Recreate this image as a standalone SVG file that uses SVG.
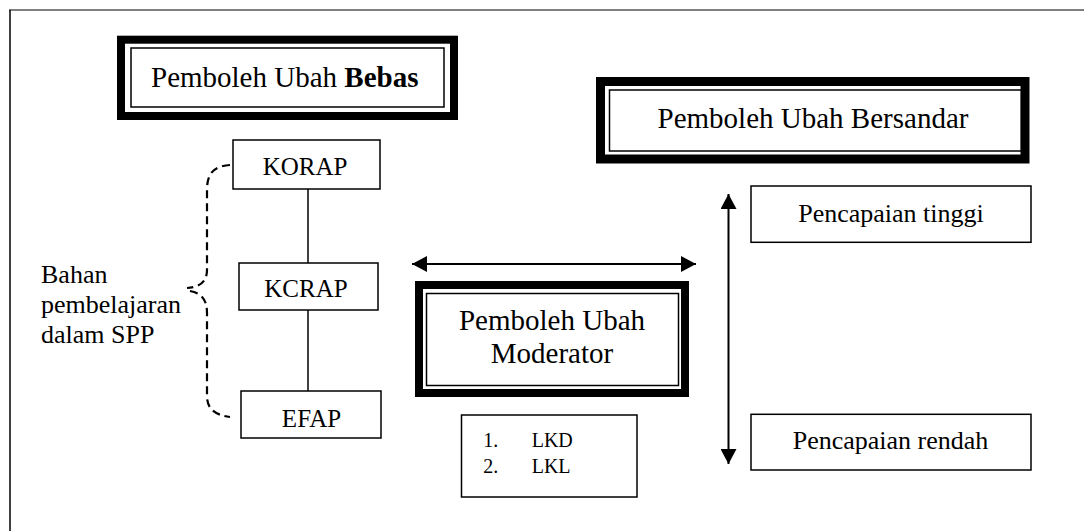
<svg xmlns="http://www.w3.org/2000/svg" width="1084" height="531" viewBox="0 0 1084 531" font-family="'Liberation Serif', 'DejaVu Serif', serif">
<style>
text{font-family:'Liberation Serif','DejaVu Serif',serif;fill:#000}
.h{font-size:29px}
.b{font-size:26px}
.k{font-size:25px}
.s{font-size:20px}
.thick{fill:#fff;stroke:#000;stroke-width:8}
.thin{fill:none;stroke:#000;stroke-width:1.5}
.box{fill:#fff;stroke:#000;stroke-width:1.5}
.line{stroke:#000;stroke-width:1.5;fill:none}
.dash{stroke:#000;stroke-width:2.2;fill:none;stroke-dasharray:8,5}
.arr{stroke:#000;stroke-width:2}
</style>
<defs>
<marker id="ah" viewBox="0 0 15 16" refX="15" refY="8" markerWidth="15" markerHeight="16" orient="auto-start-reverse" markerUnits="userSpaceOnUse">
<path d="M0,0 L15,8 L0,16 Z" fill="#000"/>
</marker>
</defs>
<rect width="1084" height="531" fill="#fff"/>
<g id="frame">
<line x1="9" y1="10" x2="1084" y2="10" stroke="#808080" stroke-width="2"/>
<line x1="10" y1="10" x2="10" y2="531" stroke="#000" stroke-width="1.5"/>
</g>
<g id="connectors">
<line class="line" x1="308" y1="189" x2="308" y2="263"/>
<line class="line" x1="308" y1="310" x2="308" y2="391"/>
<path class="dash" d="M230,165 C214,166 207,173 207,190 L207,270 C207,282 200,287 187,288"/>
<path class="dash" d="M190,291 C201,293 207,299 207,313 L207,396 C207,409 215,415 230,417"/>
<line class="arr" x1="412" y1="264" x2="696" y2="264" marker-start="url(#ah)" marker-end="url(#ah)"/>
<line class="arr" x1="728.5" y1="194" x2="728.5" y2="464" marker-start="url(#ah)" marker-end="url(#ah)"/>
</g>
<g id="bebas">
<rect class="thick" x="121" y="39.7" width="333" height="76.3"/>
<rect class="thin" x="131" y="48" width="313" height="59"/>
<text class="h" x="151" y="86.7">Pemboleh Ubah <tspan font-weight="bold">Bebas</tspan></text>
</g>
<g id="bersandar">
<rect class="thick" x="600.5" y="81.5" width="424.5" height="77.5" style="stroke-width:9"/>
<rect class="thin" x="609.5" y="90" width="412" height="61"/>
<text class="h" x="813" y="128.3" text-anchor="middle">Pemboleh Ubah Bersandar</text>
</g>
<g id="korap">
<rect class="box" x="233" y="140" width="147" height="49"/>
<text class="k" x="305" y="175" text-anchor="middle">KORAP</text>
</g>
<g id="kcrap">
<rect class="box" x="239" y="263" width="139" height="47"/>
<text class="k" x="306" y="297" text-anchor="middle">KCRAP</text>
</g>
<g id="efap">
<rect class="box" x="241" y="391" width="140" height="47"/>
<text class="k" x="311.5" y="426.7" text-anchor="middle">EFAP</text>
</g>
<g id="bahan">
<text class="b" x="41" y="283">Bahan</text>
<text class="b" x="41" y="313">pembelajaran</text>
<text class="b" x="41" y="343">dalam SPP</text>
</g>
<g id="moderator">
<rect class="thick" x="419" y="285" width="266" height="108"/>
<rect class="thin" x="426.5" y="293.5" width="252" height="92"/>
<text class="h" x="552" y="330" text-anchor="middle">Pemboleh Ubah</text>
<text class="h" x="552" y="363.3" text-anchor="middle">Moderator</text>
</g>
<g id="lk">
<rect class="box" x="461.5" y="415" width="175.5" height="82"/>
<text class="s" x="483.3" y="446.7">1.</text>
<text class="s" x="531.7" y="446.7">LKD</text>
<text class="s" x="483.3" y="473.3">2.</text>
<text class="s" x="531.7" y="473.3">LKL</text>
</g>
<g id="tinggi">
<rect class="box" x="751" y="186" width="280" height="56.3"/>
<text class="b" x="891" y="221.7" text-anchor="middle">Pencapaian tinggi</text>
</g>
<g id="rendah">
<rect class="box" x="751" y="414.3" width="280" height="55.7"/>
<text class="b" x="890.5" y="449.3" text-anchor="middle">Pencapaian rendah</text>
</g>
</svg>
